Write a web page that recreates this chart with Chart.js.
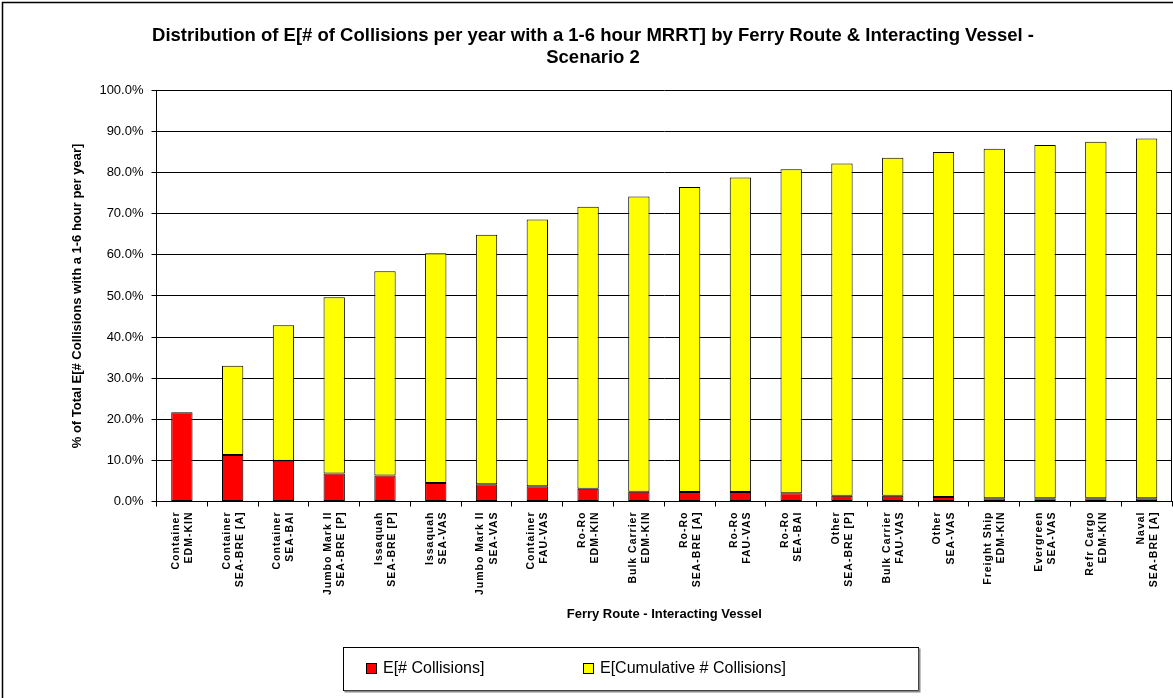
<!DOCTYPE html>
<html>
<head>
<meta charset="utf-8">
<title>Collisions by Ferry Route - Scenario 2</title>
<script src="https://cdn.jsdelivr.net/npm/chart.js@4.4.1/dist/chart.umd.min.js"></script>
<style>
  html, body { margin: 0; padding: 0; background: #fff; }
  #wrap { position: relative; width: 1173px; height: 698px; }
</style>
</head>
<body>
<div id="wrap"><canvas id="chart"></canvas></div>
<script>
// ── Data ──────────────────────────────────────────────────
const routes = [
  ['Container', 'EDM-KIN'], ['Container', 'SEA-BRE [A]'], ['Container', 'SEA-BAI'],
  ['Jumbo Mark II', 'SEA-BRE [P]'], ['Issaquah', 'SEA-BRE [P]'], ['Issaquah', 'SEA-VAS'],
  ['Jumbo Mark II', 'SEA-VAS'], ['Container', 'FAU-VAS'], ['Ro-Ro', 'EDM-KIN'],
  ['Bulk Carrier', 'EDM-KIN'], ['Ro-Ro', 'SEA-BRE [A]'], ['Ro-Ro', 'FAU-VAS'],
  ['Ro-Ro', 'SEA-BAI'], ['Other', 'SEA-BRE [P]'], ['Bulk Carrier', 'FAU-VAS'],
  ['Other', 'SEA-VAS'], ['Freight Ship', 'EDM-KIN'], ['Evergreen', 'SEA-VAS'],
  ['Refr Cargo', 'EDM-KIN'], ['Naval', 'SEA-BRE [A]']
];
const collisions = [21.7, 11.3, 9.9, 6.8, 6.3, 4.5, 4.2, 3.7, 3.1, 2.4,
                    2.3, 2.3, 2.0, 1.4, 1.4, 1.1, 0.8, 0.8, 0.8, 0.8];
const cumulative = [21.7, 33.0, 42.9, 49.7, 56.0, 60.4, 64.9, 68.6, 71.7, 74.2,
                    76.5, 78.8, 80.8, 82.2, 83.6, 85.0, 85.8, 86.7, 87.5, 88.3];
const yTicks = [0, 10, 20, 30, 40, 50, 60, 70, 80, 90, 100];

const FONT = "'Liberation Sans', Arial, sans-serif";

// yellow part sits on top of the red part, up to the cumulative total
const prevCumulative = cumulative.map((c, i) => +(c - collisions[i]).toFixed(2));

// ── Excel-ish extras: spaced x labels, plot frame, outer frame, boxed legend ──
const excelLook = {
  id: 'excelLook',
  beforeDraw(chart) {
    const sx = chart.scales.x;
    if (!sx._spaced) {
      const orig = sx.drawLabels.bind(sx);
      sx.drawLabels = area => {
        const c = chart.ctx;
        c.save(); c.letterSpacing = '1px'; orig(area); c.restore();
      };
      sx._spaced = true;
    }
  },
  afterDraw(chart) {
    const c = chart.ctx, a = chart.chartArea;
    c.save();
    c.strokeStyle = '#000'; c.lineWidth = 1;
    // right edge of plot area
    c.beginPath(); c.moveTo(Math.round(a.right) - 0.5, a.top); c.lineTo(Math.round(a.right) - 0.5, a.bottom); c.stroke();
    // outer chart border (cropped on the right/bottom)
    c.lineWidth = 1.5;
    c.beginPath(); c.moveTo(2.5, 720); c.lineTo(2.5, 2.5); c.lineTo(1200, 2.5); c.stroke();

    // legend box
    const bx = 343.5, by = 647.5, bw = 575, bh = 43;
    c.lineWidth = 1; c.strokeStyle = '#000';
    c.strokeRect(bx, by, bw, bh);
    c.strokeStyle = '#888'; c.lineWidth = 2;
    c.beginPath(); c.moveTo(bx + 1, by + bh + 1); c.lineTo(bx + bw + 1, by + bh + 1); c.lineTo(bx + bw + 1, by + 1); c.stroke();

    const items = chart.data.datasets.map(d => ({ label: d.label, color: d.backgroundColor }));
    const pos = [366, 583];
    c.font = '16px ' + FONT; c.textBaseline = 'middle';
    items.forEach((it, i) => {
      const x = pos[i], y = 668;
      c.fillStyle = it.color; c.fillRect(x, y - 5, 10, 10);
      c.strokeStyle = '#000'; c.lineWidth = 1; c.strokeRect(x + 0.5, y - 4.5, 10, 10);
      c.fillStyle = '#000'; c.fillText(it.label, x + 17, y + 1);
    });
    c.restore();
  }
};

new Chart(document.getElementById('chart'), {
  type: 'bar',
  data: {
    labels: routes,
    datasets: [
      { label: 'E[# Collisions]', data: collisions, backgroundColor: '#FF0000',
        borderColor: '#000', borderWidth: 1, borderSkipped: false },
      { label: 'E[Cumulative # Collisions]', data: prevCumulative, backgroundColor: '#FFFF00',
        borderColor: '#000', borderWidth: 1, borderSkipped: false }
    ]
  },
  options: {
    responsive: true,
    maintainAspectRatio: false,
    animation: false,
    layout: { padding: { left: 14, right: 1, top: 0, bottom: 76 } },
    datasets: { bar: { barPercentage: 0.42, categoryPercentage: 1 } },
    plugins: {
      legend: { display: false },
      tooltip: { enabled: false },
      title: {
        display: true,
        text: ['Distribution of E[# of Collisions per year with a 1-6 hour MRRT] by Ferry Route & Interacting Vessel -',
               'Scenario 2'],
        color: '#000',
        font: { family: FONT, size: 18.5, weight: 'bold', lineHeight: 1.2 },
        padding: { top: 25, bottom: 21 }
      }
    },
    scales: {
      x: {
        stacked: true,
        offset: true,
        grid: { display: true, drawOnChartArea: false, drawTicks: true, tickLength: 5, color: '#000', offset: true },
        border: { color: '#000', width: 1 },
        ticks: {
          autoSkip: false, maxRotation: 90, minRotation: 90, padding: 5, labelOffset: -6,
          color: '#000', font: { family: FONT, size: 10.5, weight: 'bold', lineHeight: 1.25 }
        },
        title: {
          display: true, text: 'Ferry Route - Interacting Vessel', color: '#000',
          font: { family: FONT, size: 13, weight: 'bold' }, padding: { top: 0, bottom: 0 }
        },
        afterFit: s => { s.height = 120.5; s.paddingLeft = 0; s.paddingRight = 0; }
      },
      y: {
        stacked: true,
        min: 0, max: 100,
        afterBuildTicks: s => { s.ticks = yTicks.map(v => ({ value: v })); },
        grid: { color: '#000', lineWidth: 1, drawTicks: true, tickLength: 5 },
        border: { color: '#000', width: 1 },
        ticks: {
          padding: 8, color: '#000',
          font: { family: FONT, size: 13 },
          callback: v => v.toFixed(1) + '%'
        },
        title: {
          display: true, text: '% of Total E[# Collisions with a 1-6 hour per year]', color: '#000',
          font: { family: FONT, size: 13, weight: 'bold' }, padding: { top: 56, bottom: 0 }
        },
        afterFit: s => { s.width = 142.5; }
      }
    }
  },
  plugins: [excelLook]
});
</script>
</body>
</html>
